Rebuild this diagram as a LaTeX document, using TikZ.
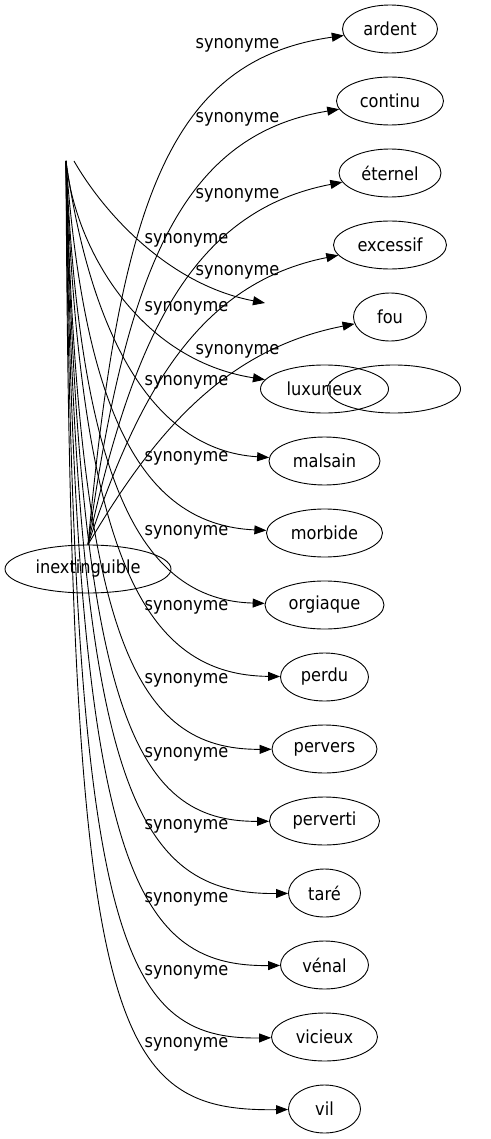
\documentclass[tikz,border=0pt]{standalone}
\usepackage{fontspec}
\setmainfont{DejaVu Sans}[FakeStretch=0.9]
\usetikzlibrary{arrows.meta,shapes.geometric}
\begin{document}
\begin{tikzpicture}[x=1pt,y=-1pt,line width=0.9pt,font=\fontsize{18}{21}\selectfont,
		word/.style={draw,ellipse,inner sep=0pt,minimum height=48pt},
		syn/.style={-{Triangle[length=12pt,width=9pt]}},
		lab/.style={inner sep=0pt}]
			\useasboundingbox (0,0) rectangle (490,1139);
			\coordinate (S) at (66,161);
			\coordinate (L) at (74,161);
			\coordinate (V) at (265,303);
			\node[word,minimum width=166pt] (inextinguible) at (88,569) {inextinguible};
			\node[word,minimum width=95pt] (ardent) at (390,29) {ardent};
			\node[word,minimum width=107pt] (continu) at (390,101) {continu};
			\node[word,minimum width=102pt] (eternel) at (390,173) {éternel};
			\node[word,minimum width=113pt] (excessif) at (390,245) {excessif};
			\node[word,minimum width=73pt] (fou) at (390,317) {fou};
			\node[word,minimum width=128pt] (luxurieux) at (324.5,389) {luxurieux};
			\node[word,minimum width=133pt] (ghost) at (394,389) {};
			\node[word,minimum width=111pt] (malsain) at (324.5,461) {malsain};
			\node[word,minimum width=116pt] (morbide) at (324.5,533) {morbide};
			\node[word,minimum width=119pt] (orgiaque) at (324.5,605) {orgiaque};
			\node[word,minimum width=88pt] (perdu) at (324.5,677) {perdu};
			\node[word,minimum width=105pt] (pervers) at (324.5,749) {pervers};
			\node[word,minimum width=110pt] (perverti) at (324.5,821) {perverti};
			\node[word,minimum width=72pt] (tare) at (324.5,893) {taré};
			\node[word,minimum width=88pt] (venal) at (324.5,965) {vénal};
			\node[word,minimum width=106pt] (vicieux) at (324.5,1037) {vicieux};
			\node[word,minimum width=72pt] (vil) at (324.5,1109) {vil};
			\draw[syn] (inextinguible.north) .. controls (120,200) and (170,60) .. (ardent);
			\draw[syn] (inextinguible.north) .. controls (126,273) and (180,135) .. (continu);
			\draw[syn] (inextinguible.north) .. controls (133,337) and (192,211) .. (eternel);
			\draw[syn] (inextinguible.north) .. controls (139,392) and (199,283) .. (excessif);
			\draw[syn] (inextinguible.north) .. controls (150,440) and (220,350) .. (fou);
			\draw[syn] (L) .. controls (105,215) and (170,285) .. (V);
			\draw[syn] (S) .. controls (75,250) and (140,360) .. (luxurieux);
			\draw[syn] (S) .. controls (90,330) and (150,450) .. (malsain);
			\draw[syn] (S) .. controls (85,420) and (145,525) .. (morbide);
			\draw[syn] (S) .. controls (80,480) and (140,600) .. (orgiaque);
			\draw[syn] (S) .. controls (80,560) and (145,675) .. (perdu);
			\draw[syn] (S) .. controls (78,640) and (135,750) .. (pervers);
			\draw[syn] (S) .. controls (78,715) and (135,822) .. (perverti);
			\draw[syn] (S) .. controls (76,790) and (135,895) .. (tare);
			\draw[syn] (S) .. controls (74,860) and (130,967) .. (venal);
			\draw[syn] (S) .. controls (72,940) and (120,1040) .. (vicieux);
			\draw[syn] (S) .. controls (70,1030) and (110,1112) .. (vil);
			\node[lab] at (237.5,45) {synonyme};
			\node[lab] at (237.5,119) {synonyme};
			\node[lab] at (237.5,195) {synonyme};
			\node[lab] at (237.5,272) {synonyme};
			\node[lab] at (237.5,351) {synonyme};
			\node[lab] at (186.5,240) {synonyme};
			\node[lab] at (186.5,308) {synonyme};
			\node[lab] at (186.5,382) {synonyme};
			\node[lab] at (186.5,458) {synonyme};
			\node[lab] at (186.5,532) {synonyme};
			\node[lab] at (186.5,607) {synonyme};
			\node[lab] at (186.5,680) {synonyme};
			\node[lab] at (186.5,754) {synonyme};
			\node[lab] at (186.5,826) {synonyme};
			\node[lab] at (186.5,899) {synonyme};
			\node[lab] at (186.5,972) {synonyme};
			\node[lab] at (186.5,1044) {synonyme};
		\end{tikzpicture}
\end{document}
